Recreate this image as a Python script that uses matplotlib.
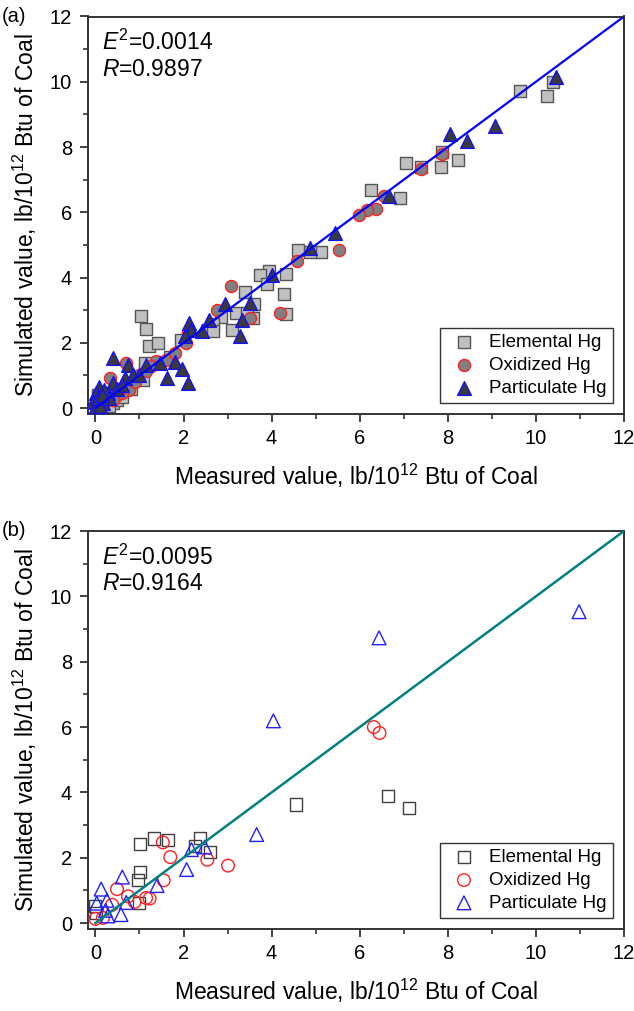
import matplotlib
matplotlib.use("Agg")
import matplotlib.pyplot as plt
from matplotlib.ticker import MultipleLocator

plt.rcParams['font.family'] = ['Liberation Sans', 'DejaVu Sans']
plt.rcParams['mathtext.fontset'] = 'custom'
plt.rcParams['mathtext.rm'] = 'Liberation Sans'
plt.rcParams['mathtext.it'] = 'Liberation Sans:italic'

# ---------------- Panel (a) data ----------------
a_elem_x = [10.38, 10.26, 9.64, 8.22, 7.87, 7.85, 7.40, 7.06, 6.92, 6.26, 5.12, 4.88, 4.61,
            4.33, 3.93, 3.74, 3.89, 4.28, 4.33, 3.39, 3.60, 3.58, 3.20, 3.45, 3.09, 2.86,
            2.67, 2.56, 2.67, 1.95, 1.04, 1.14, 1.21, 1.42, 1.69, 1.12, 1.08, 0.39,
            0.10, 0.20, 0.50, 0.60, 0.80, 0.30, 0.05]
a_elem_y = [10.00, 9.57, 9.72, 7.61, 7.86, 7.40, 7.40, 7.50, 6.45, 6.67, 4.77, 4.77, 4.83,
            4.10, 4.19, 4.08, 3.81, 3.50, 2.88, 3.57, 3.20, 2.76, 2.91, 2.93, 2.40, 2.79,
            2.58, 2.40, 2.35, 2.09, 2.81, 2.42, 1.89, 2.01, 1.58, 1.38, 0.87, 0.15,
            0.10, 0.30, 0.25, 0.35, 0.60, 0.05, 0.40]

a_oxi_x = [7.87, 7.40, 6.55, 6.38, 6.17, 5.98, 5.52, 4.57, 4.18, 3.07, 2.75, 3.52, 2.06,
           2.10, 0.70, 0.33, 1.38, 1.27, 1.00, 0.77, 0.47, 1.61, 0.90, 0.60, 0.20, 0.10,
           1.15, 0.55, 0.40, 1.80]
a_oxi_y = [7.79, 7.32, 6.50, 6.09, 6.07, 5.92, 4.85, 4.50, 2.93, 3.73, 3.01, 2.76, 1.99,
           2.32, 1.38, 0.92, 1.43, 1.28, 1.02, 0.56, 0.36, 1.48, 0.80, 0.45, 0.15, 0.05,
           1.15, 0.60, 0.25, 1.70]

a_part_x = [10.46, 9.07, 8.43, 8.06, 6.66, 5.44, 4.88, 4.00, 3.51, 2.94, 3.32, 3.28, 2.13,
            2.58, 2.41, 2.18, 2.03, 1.80, 1.97, 0.39, 0.74, 1.15, 1.46, 1.62, 2.10, 0.66,
            0.39, 0.09, 0.02, 0.28, -0.06, 0.17, 0.85, 0.00, 0.05, 0.20, 0.50, 0.10, 0.30,
            0.60, 1.00, 0.15]
a_part_y = [10.14, 8.63, 8.17, 8.40, 6.50, 5.38, 4.90, 4.08, 3.22, 3.20, 2.71, 2.22, 2.62,
            2.71, 2.35, 2.40, 2.22, 1.40, 1.19, 1.53, 1.33, 1.33, 1.38, 0.92, 0.77, 0.92,
            0.77, 0.66, 0.46, 0.46, 0.20, 0.15, 1.02, 0.00, 0.30, 0.55, 0.60, 0.05, 0.30,
            0.70, 1.00, 0.40]

# ---------------- Panel (b) data ----------------
b_elem_x = [7.12, 6.64, 4.56, 1.02, 1.34, 1.65, 2.38, 2.26, 2.61, 1.02, 0.96, 0.99, 0.00, 0.02]
b_elem_y = [3.51, 3.88, 3.63, 2.43, 2.59, 2.54, 2.61, 2.35, 2.17, 1.55, 1.33, 0.63, 0.51, 0.31]

b_oxi_x = [6.32, 6.45, 1.53, 1.70, 2.54, 3.01, 1.55, 0.49, 0.74, 0.89, 1.15, 1.23, 0.38, 0.00, 0.17]
b_oxi_y = [6.00, 5.82, 2.47, 2.02, 1.94, 1.76, 1.31, 1.04, 0.82, 0.65, 0.77, 0.75, 0.56, 0.13, 0.16]

b_part_x = [10.98, 6.44, 4.04, 3.66, 2.07, 2.18, 2.48, 1.40, 0.61, 0.13, 0.03, 0.26, 0.70, 0.23, 0.58, 0.28]
b_part_y = [9.53, 8.73, 6.19, 2.71, 1.64, 2.25, 2.33, 1.15, 1.41, 1.04, 0.61, 0.70, 0.63, 0.39, 0.26, 0.22]

line_x = [0, 12]
line_y = [0, 12]

labels = ["Elemental Hg", "Oxidized Hg", "Particulate Hg"]
stats_a = ["0.0014", "0.9897"]
stats_b = ["0.0095", "0.9164"]

W, H = 634, 1011
fig = plt.figure(figsize=(W / 100, H / 100), dpi=100)

ax_a = fig.add_axes([87.5 / W, 1 - 414 / H, (624 - 87.5) / W, (414 - 16.5) / H])
ax_b = fig.add_axes([87.5 / W, 1 - 929 / H, (624 - 87.5) / W, (929 - 531) / H])

spine_c = '#333333'
ms = 75

def style(ax):
    ax.set_xlim(-0.18, 12)
    ax.set_ylim(-0.18, 12)
    ax.xaxis.set_major_locator(MultipleLocator(2))
    ax.yaxis.set_major_locator(MultipleLocator(2))
    ax.xaxis.set_minor_locator(MultipleLocator(1))
    ax.yaxis.set_minor_locator(MultipleLocator(1))
    for s in ax.spines.values():
        s.set_color(spine_c)
        s.set_linewidth(1.4)
    ax.tick_params(which='major', direction='out', length=6, width=1.3, color=spine_c,
                   labelsize=14.5, pad=5, top=False, right=False)
    ax.tick_params(which='minor', direction='out', length=3.5, width=1.2, color=spine_c,
                   top=False, right=False)
    ax.set_xlabel("Measured value, lb/10$^{12}$ Btu of Coal", fontsize=16.5, labelpad=10)
    ax.set_ylabel("Simulated value, lb/10$^{12}$ Btu of Coal", fontsize=16.5, labelpad=8)

# Panel (a)
ax_a.scatter(a_elem_x, a_elem_y, marker='s', s=ms, facecolor='#C0C0C0', edgecolor='#555555',
             linewidth=1.0, label=labels[0], zorder=2)
ax_a.scatter(a_oxi_x, a_oxi_y, marker='o', s=ms, facecolor='#808080', edgecolor='#FF2020',
             linewidth=1.0, label=labels[1], zorder=3)
ax_a.scatter(a_part_x, a_part_y, marker='^', s=ms * 1.3, facecolor='#3A3A3A', edgecolor='#1010FF',
             linewidth=1.0, label=labels[2], zorder=4)
ax_a.plot(line_x, line_y, color='#0000FF', linewidth=1.6, zorder=5)
style(ax_a)

# Panel (b)
ax_b.scatter(b_elem_x, b_elem_y, marker='s', s=ms, facecolor='none', edgecolor='#404040',
             linewidth=1.0, label=labels[0], zorder=2)
ax_b.scatter(b_oxi_x, b_oxi_y, marker='o', s=ms * 1.1, facecolor='none', edgecolor='#FF2020',
             linewidth=1.0, label=labels[1], zorder=3)
ax_b.scatter(b_part_x, b_part_y, marker='^', s=ms * 1.3, facecolor='none', edgecolor='#2020FF',
             linewidth=1.0, label=labels[2], zorder=4)
ax_b.plot(line_x, line_y, color='#008080', linewidth=1.8, zorder=5)
style(ax_b)

for ax, st in ((ax_a, stats_a), (ax_b, stats_b)):
    ax.text(0.16, 11.2, r"$\mathit{E}^{2}$=" + st[0], fontsize=16.5, va='center', ha='left')
    ax.text(0.16, 10.38, r"$\mathit{R}$=" + st[1], fontsize=16.5, va='center', ha='left')
    leg = ax.legend(loc='lower right', fontsize=13.5, frameon=True, fancybox=False,
                    edgecolor='#333333', framealpha=1, borderaxespad=0.6,
                    handletextpad=0.4, labelspacing=0.3, borderpad=0.32,
                    handlelength=1.9, scatterpoints=1)
    leg.get_frame().set_linewidth(1.0)

fig.text(2 / W, 1 - 16 / H, "(a)", fontsize=14.5, va='center', ha='left')
fig.text(2 / W, 1 - 531 / H, "(b)", fontsize=14.5, va='center', ha='left')

fig.savefig("out.png", dpi=100)
